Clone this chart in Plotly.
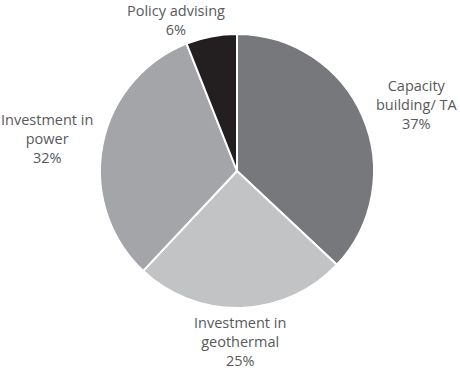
import plotly.graph_objects as go

labels = ["Capacity building/ TA", "Investment in geothermal", "Investment in power", "Policy advising"]
label_lines = [["Capacity", "building/ TA"], ["Investment in", "geothermal"], ["Investment in", "power"], ["Policy advising"]]
values = [37, 25, 32, 6]
colors = ["#77787b", "#c2c3c5", "#a4a5a8", "#231f20"]

W, H = 460, 370
# label centers in pixels
label_pos = [(416, 104), (240, 341), (47, 139), (176, 20)]
cx, cy, r = 237, 171, 137

fig = go.Figure(go.Pie(
    labels=labels, values=values, sort=False, direction="clockwise", rotation=0,
    marker=dict(colors=colors, line=dict(color="white", width=2)),
    textinfo="none", hoverinfo="label+percent", showlegend=False,
    domain=dict(x=[(cx - r) / W, (cx + r) / W], y=[1 - (cy + r) / H, 1 - (cy - r) / H]),
))

for lines, v, (px, py) in zip(label_lines, values, label_pos):
    txt = "<br>".join(lines + [f"{v}%"])
    fig.add_annotation(x=px / W, y=1 - py / H, xref="paper", yref="paper",
                       xanchor="center", yanchor="middle", text=txt, showarrow=False,
                       align="center", font=dict(family="Open Sans", size=14.5, color="#58595b"))

fig.update_layout(width=W, height=H, margin=dict(l=0, r=0, t=0, b=0),
                  paper_bgcolor="white", plot_bgcolor="white")
fig.write_html("out.html", config={"displayModeBar": False},
               post_script="document.body.style.margin='0';document.body.style.overflow='hidden';")
